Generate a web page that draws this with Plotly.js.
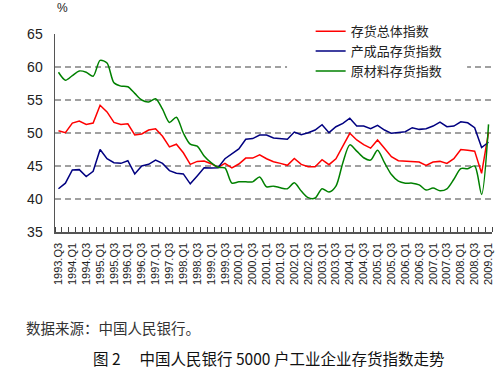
<!DOCTYPE html>
<html>
<head>
<meta charset="utf-8">
<script src="https://cdn.plot.ly/plotly-3.0.1.min.js"></script>
<style>
html,body{margin:0;padding:0;background:#fff;}
#chart{width:500px;height:371px;}
</style>
</head>
<body>
<div id="chart"></div>
<script>
// Quarters 1993Q3 .. 2009Q1
const quarters = [];
(function(){
  let y = 1993, q = 3;
  while (y < 2009 || (y === 2009 && q <= 1)) {
    quarters.push(y + '.Q' + q);
    q++; if (q > 4) { q = 1; y++; }
  }
})();

const seriesNames = ['存货总体指数', '产成品存货指数', '原材料存货指数'];

const totalIndex = [
  50.35, 50.05, 51.5, 51.8, 51.3, 51.5, 54.2, 53.2, 51.6, 51.3,
  51.4, 49.7, 49.85, 50.45, 50.65, 49.5, 47.9, 48.3, 47.0, 45.25,
  45.7, 45.75, 45.35, 44.8, 45.4, 44.7, 45.3, 46.2, 46.2, 46.7,
  46.1, 45.65, 45.4, 45.1, 46.15, 45.25, 44.9, 44.9, 45.95, 45.2,
  46.1, 48.1, 49.95, 48.95, 48.25, 47.7, 48.95, 47.7, 46.4, 45.8,
  45.7, 45.7, 45.6, 45.1, 45.6, 45.7, 45.4, 46.1, 47.5, 47.4,
  47.25, 43.9, 50.1
];

const finishedGoods = [
  41.55, 42.4, 44.4, 44.45, 43.4, 44.2, 47.5, 46.1, 45.5, 45.4,
  45.8, 43.8, 45.0, 45.25, 45.9, 45.4, 44.3, 43.9, 43.8, 42.3,
  43.5, 44.75, 44.7, 44.75, 46.1, 46.8, 47.6, 49.05, 49.15, 49.7,
  49.7, 49.25, 49.2, 49.05, 50.15, 49.75, 50.05, 50.45, 51.25, 50.05,
  50.95, 51.45, 52.25, 51.05, 51.05, 50.65, 51.15, 50.45, 49.95, 50.05,
  50.2, 50.8, 50.55, 50.65, 51.05, 51.65, 50.95, 51.05, 51.7, 51.55,
  50.8, 47.8, 48.6
];

const rawMaterials = [
  59.2, 58.0, 58.7, 59.4, 59.2, 58.6, 61.0, 60.6, 57.6, 57.1,
  57.0, 56.0, 55.0, 54.7, 55.2, 53.6, 51.6, 52.4, 50.0, 48.3,
  48.0, 46.5, 45.5, 44.8, 44.7, 42.4, 42.6, 42.6, 42.6, 43.35,
  41.85, 41.95, 41.7, 41.55, 42.45, 41.2, 40.2, 40.15, 41.55, 41.05,
  41.95, 45.5, 48.2, 47.25, 46.25, 45.9, 47.4, 45.5, 43.7, 42.7,
  42.4, 42.4, 42.15, 41.35, 41.65, 41.25, 41.55, 43.0, 44.6, 44.6,
  45.0, 40.7, 51.3
];

const yTicks = [35, 40, 45, 50, 55, 60, 65];

const idx = quarters.map((_, i) => i);
const labelIdx = idx.filter(i => i % 2 === 0);
const labelText = labelIdx.map(i => quarters[i]);

const traces = [
  {x: idx, y: totalIndex, name: seriesNames[0], type: 'scatter', mode: 'lines',
   line: {color: '#ff0000', width: 1.5}},
  {x: idx, y: finishedGoods, name: seriesNames[1], type: 'scatter', mode: 'lines',
   line: {color: '#000080', width: 1.5}},
  {x: idx, y: rawMaterials, name: seriesNames[2], type: 'scatter', mode: 'lines',
   line: {color: '#008000', width: 1.5, shape: 'spline', smoothing: 0.8}}
];

const layout = {
  width: 500, height: 371,
  margin: {l: 55, r: 8, t: 34, b: 139},
  paper_bgcolor: '#ffffff', plot_bgcolor: '#ffffff',
  font: {family: 'Liberation Sans, Arial, sans-serif', color: '#222'},
  showlegend: true,
  legend: {
    x: 0.585, y: 1.09, xanchor: 'left', yanchor: 'top',
    bgcolor: 'rgba(255,255,255,0)', borderwidth: 0,
    font: {family: 'Noto Sans CJK SC, sans-serif', size: 13, color: '#222'},
    tracegroupgap: 0, itemwidth: 30
  },
  xaxis: {
    range: [-0.5, 62.5],
    tickmode: 'array', tickvals: labelIdx, ticktext: labelText,
    tickangle: -90, ticks: '', ticklabelstandoff: 5,
    showgrid: false, zeroline: false,
    showline: true, linecolor: '#555', linewidth: 1.5,
    tickfont: {size: 11, color: '#222'},
    minor: {tickmode: 'linear', tick0: -0.5, dtick: 1, ticks: 'inside', ticklen: 5,
            tickcolor: '#444', tickwidth: 1, showgrid: false}
  },
  yaxis: {
    range: [35, 65], tickmode: 'array', tickvals: yTicks,
    ticks: '', ticklabelstandoff: 8,
    showgrid: true, gridcolor: '#a0a0a0', gridwidth: 1.5, griddash: '6px,4px',
    zeroline: false, showline: true, linecolor: '#555', linewidth: 1.5,
    tickfont: {size: 14, color: '#222'}
  },
  shapes: [
    {type: 'rect', xref: 'paper', yref: 'paper', x0: 0.531, x1: 0.943, y0: 0.81, y1: 1.08,
     fillcolor: '#ffffff', line: {width: 0}, layer: 'above'}
  ],
  annotations: [
    {text: '%', xref: 'paper', yref: 'paper', x: 0, y: 1.085, xanchor: 'left', yanchor: 'bottom',
     showarrow: false, font: {size: 12, color: '#222'}},
    {text: '数据来源：中国人民银行。', xref: 'paper', yref: 'paper',
     x: -0.07, y: -0.48, xanchor: 'left', yanchor: 'middle', showarrow: false,
     font: {family: 'Noto Sans CJK SC, sans-serif', size: 14.5, color: '#333'}},
    {text: '图 2　 中国人民银行 5000 户工业企业存货指数走势', xref: 'paper', yref: 'paper',
     x: 0.488, y: -0.635, xanchor: 'center', yanchor: 'middle', showarrow: false,
     font: {family: 'Noto Sans CJK SC, sans-serif', size: 15.5, color: '#111'}}
  ]
};

Plotly.newPlot('chart', traces, layout, {displayModeBar: false, staticPlot: true});
</script>
</body>
</html>
